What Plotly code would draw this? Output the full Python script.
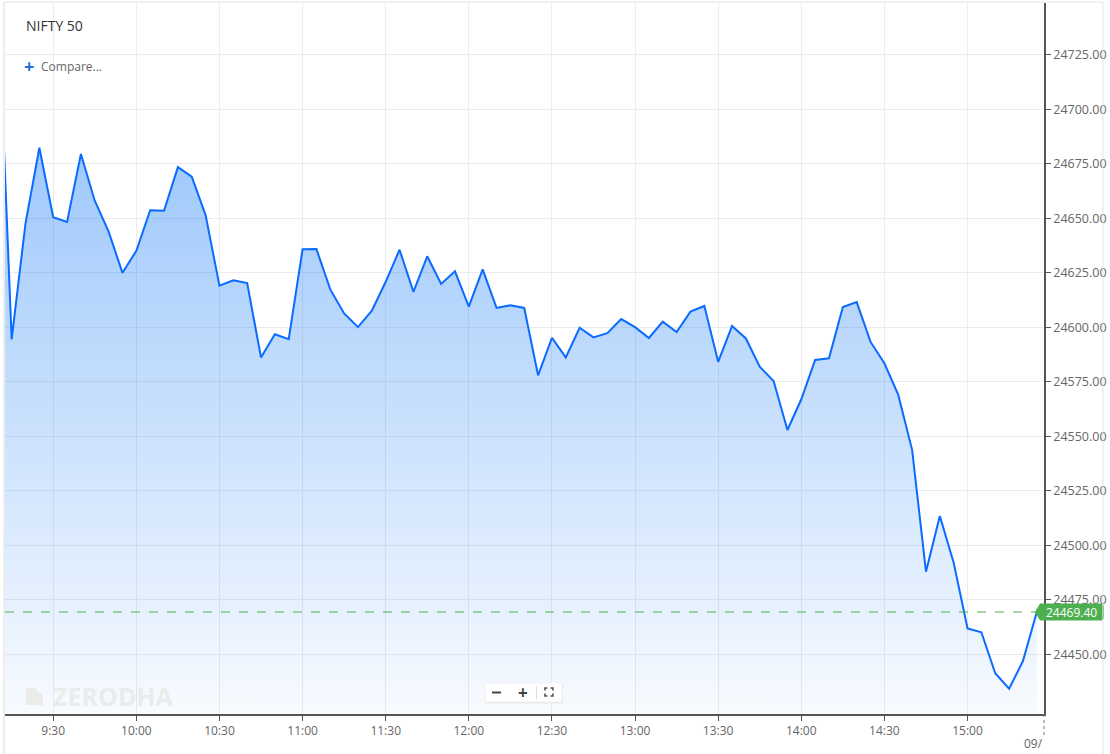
import pandas as pd
import plotly.graph_objects as go

# ---------------- data ----------------
title_text = "NIFTY 50"
session_date = "2024-10-08"
# first value is the previous (off-screen) point whose segment enters from the left edge
values = [
    24753.0,
    24594.5, 24647.7, 24682.4, 24650.5, 24648.3, 24679.5, 24658.1, 24643.9, 24625.0,
    24635.1, 24653.7, 24653.5, 24673.5, 24669.1, 24651.5, 24619.1, 24621.6, 24620.3,
    24586.2, 24596.8, 24594.6,
    24635.8, 24635.9, 24617.4, 24606.4, 24600.1, 24607.6, 24620.9, 24635.6, 24616.3,
    24632.6, 24619.9, 24625.7,
    24609.5, 24626.6, 24608.9, 24610.1, 24608.9, 24578.0, 24595.2, 24586.2, 24599.8,
    24595.4, 24597.3, 24603.8,
    24600.1, 24595.1, 24602.6, 24597.8, 24607.2, 24609.8, 24584.2, 24600.6, 24594.9,
    24581.9, 24575.4, 24552.9,
    24567.0, 24585.0, 24585.8, 24609.3, 24611.6, 24593.3, 24583.5, 24569.0, 24543.8,
    24487.9, 24513.4, 24492.0,
    24461.9, 24460.1, 24441.3, 24434.2, 24446.9, 24469.4,
]
times = pd.date_range(f"{session_date} 09:10", periods=len(values), freq="5min")
last_price = values[-1]
y_tickvals = [24450, 24475, 24500, 24525, 24550, 24575, 24600, 24625, 24650, 24675, 24700, 24725]
y_range = [24422.6, 24748.8]
x_range = [f"{session_date} 09:12:36", f"{session_date} 15:27:36"]

# ---------------- layout geometry helpers (pixels -> paper) ----------------
W_FIG, H_FIG = 1110, 754
PL, PR, PT, PB = 5, 1046, 3, 714
PW, PH = PR - PL, PB - PT


def px(x):
    return (x - PL) / PW


def py(y):
    return (PB - y) / PH


FONT = "Open Sans, Noto Sans, DejaVu Sans, sans-serif"
GREEN = "#4caf50"
BLUE = "#0b6bff"

fig = go.Figure()
fig.add_trace(go.Scatter(
    x=times, y=values, mode="lines",
    line=dict(color=BLUE, width=2),
    fill="tozeroy",
    fillgradient=dict(
        type="vertical",
        start=y_range[0], stop=max(values[1:]),
        colorscale=[[0, "rgba(0,110,245,0.03)"], [1, "rgba(0,110,245,0.38)"]],
    ),
    hoverinfo="x+y",
))

shapes = []
# dashed last-price line
shapes.append(dict(type="line", xref="paper", yref="y", x0=0, x1=px(1038),
                   y0=last_price, y1=last_price,
                   line=dict(color=GREEN, width=1, dash="dash"), layer="above"))


def P(x, y):
    return f"{px(x):.5f},{py(y):.5f}"


# price label with pointer
yl = 109.3 + (24700 - last_price) * 2.18
label_path = (f"M {P(1037, yl)} L {P(1042, yl-8.5)} L {P(1104, yl-8.5)} "
              f"L {P(1106, yl-6.5)} L {P(1106, yl+6.5)} L {P(1104, yl+8.5)} "
              f"L {P(1042, yl+8.5)} Z")
shapes.append(dict(type="path", xref="paper", yref="paper", path=label_path,
                   fillcolor=GREEN, line=dict(width=0), layer="above"))
# frame lines (left/top light, far right light)
shapes.append(dict(type="line", xref="paper", yref="paper", x0=px(4), x1=px(4),
                   y0=py(754), y1=py(2), line=dict(color="#dcdcdc", width=1)))
shapes.append(dict(type="line", xref="paper", yref="paper", x0=px(4), x1=px(1105),
                   y0=py(2), y1=py(2), line=dict(color="#e2e2e2", width=1)))
shapes.append(dict(type="line", xref="paper", yref="paper", x0=px(1105), x1=px(1105),
                   y0=py(754), y1=py(2), line=dict(color="#e2e2e2", width=1)))
# dotted date tick at right end of x axis
shapes.append(dict(type="line", xref="paper", yref="paper", x0=px(1046), x1=px(1046),
                   y0=py(714), y1=py(736), line=dict(color="#777", width=1, dash="dot")))
# zoom control box
shapes.append(dict(type="rect", xref="paper", yref="paper", x0=px(486), x1=px(564),
                   y0=py(703.5), y1=py(684), fillcolor="#e9e9e9", line=dict(width=0)))
shapes.append(dict(type="rect", xref="paper", yref="paper", x0=px(486), x1=px(563),
                   y0=py(702), y1=py(683), fillcolor="white", line=dict(color="#f0f0f0", width=1)))
shapes.append(dict(type="line", xref="paper", yref="paper", x0=px(537.5), x1=px(537.5),
                   y0=py(699), y1=py(686), line=dict(color="#dddddd", width=1)))
fs = (f"M {P(546, 690.5)} L {P(546, 688)} L {P(548.5, 688)} "
      f"M {P(551.5, 688)} L {P(554, 688)} L {P(554, 690.5)} "
      f"M {P(554, 693.5)} L {P(554, 696)} L {P(551.5, 696)} "
      f"M {P(548.5, 696)} L {P(546, 696)} L {P(546, 693.5)}")
shapes.append(dict(type="path", xref="paper", yref="paper", path=fs,
                   line=dict(color="#555", width=1.6)))
# minus icon
shapes.append(dict(type="line", xref="paper", yref="paper", x0=px(493), x1=px(502),
                   y0=py(692.5), y1=py(692.5), line=dict(color="#444", width=2)))
# watermark logo
logo = (f"M {P(26, 705)} L {P(26, 688)} L {P(35, 688)} L {P(43, 696)} "
        f"L {P(43, 705)} Z")
shapes.append(dict(type="path", xref="paper", yref="paper", path=logo,
                   fillcolor="#ebebeb", line=dict(width=0)))

annotations = [
    dict(text=title_text, xref="paper", yref="paper", x=px(24), y=py(25),
         xanchor="left", yanchor="middle", showarrow=False,
         font=dict(family=FONT, size=14, color="#333333")),
    dict(text="<b>+</b>", xref="paper", yref="paper", x=px(29), y=py(65.5),
         xanchor="center", yanchor="middle", showarrow=False,
         font=dict(family=FONT, size=18, color="#1e6fd9")),
    dict(text="Compare...", xref="paper", yref="paper", x=px(39), y=py(66),
         xanchor="left", yanchor="middle", showarrow=False,
         font=dict(family=FONT, size=12, color="#666666")),
    dict(text=f"{last_price:.2f}", xref="paper", yref="paper", x=px(1074), y=py(yl),
         xanchor="center", yanchor="middle", showarrow=False,
         font=dict(family=FONT, size=12, color="white")),
    dict(text="09/", xref="paper", yref="paper", x=px(1047), y=py(743),
         xanchor="right", yanchor="middle", showarrow=False,
         font=dict(family=FONT, size=12, color="#666666")),
    dict(text="<b>ZERODHA</b>", xref="paper", yref="paper", x=px(51), y=py(695.5),
         xanchor="left", yanchor="middle", showarrow=False,
         font=dict(family=FONT, size=25, color="#ebebeb")),
    dict(text="<b>+</b>", xref="paper", yref="paper", x=px(524), y=py(692.5),
         xanchor="center", yanchor="middle", showarrow=False,
         font=dict(family=FONT, size=17, color="#444")),
]

fig.update_layout(
    width=W_FIG, height=H_FIG,
    margin=dict(l=PL, r=W_FIG - PR, t=PT, b=H_FIG - PB, pad=0),
    paper_bgcolor="white", plot_bgcolor="white",
    showlegend=False,
    font=dict(family=FONT, size=12, color="#666666"),
    shapes=shapes, annotations=annotations,
    xaxis=dict(
        type="date", range=x_range,
        tick0=f"{session_date} 09:30", dtick=30 * 60 * 1000,
        tickformat="%-H:%M",
        showgrid=True, gridcolor="#ececec", gridwidth=1,
        showline=True, linecolor="#555555", linewidth=1.5,
        ticks="outside", ticklen=5, tickcolor="#555555",
        tickfont=dict(family=FONT, size=12, color="#666666"),
        zeroline=False, fixedrange=True,
    ),
    yaxis=dict(
        side="right", range=y_range, tickmode="array", tickvals=y_tickvals,
        tickformat=".2f",
        showgrid=True, gridcolor="#ececec", gridwidth=1,
        showline=True, linecolor="#555555", linewidth=1.5,
        ticks="outside", ticklen=5, tickcolor="#555555",
        tickfont=dict(family=FONT, size=12.5, color="#666666"),
        zeroline=False, fixedrange=True,
    ),
)

fig.write_html("out.html", config={"displayModeBar": False},
               post_script="document.body.style.margin='0';document.body.style.overflow='hidden';")
